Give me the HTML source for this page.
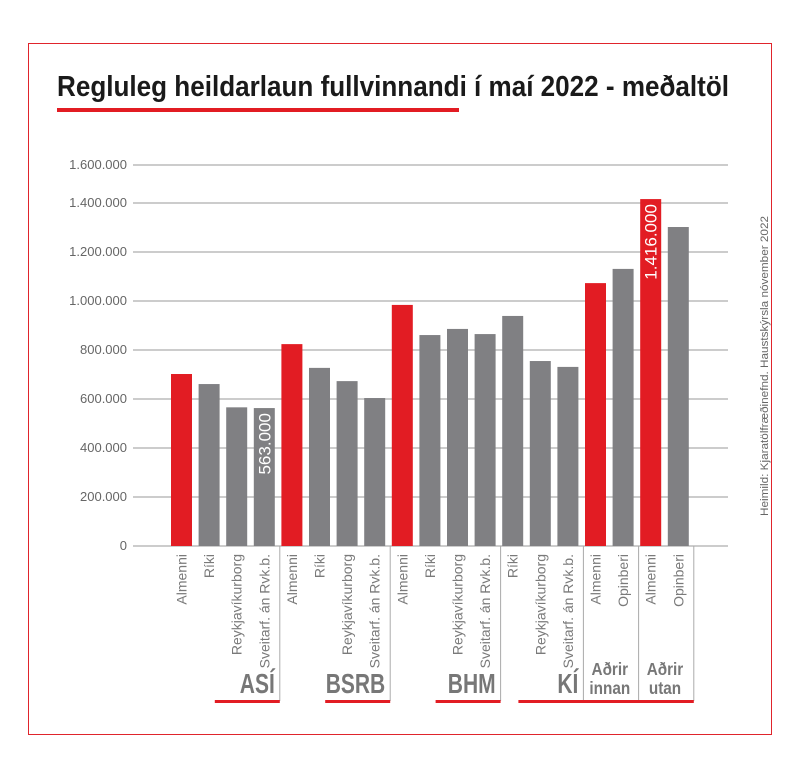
<!DOCTYPE html>
<html><head><meta charset="utf-8"><style>
body{margin:0;background:#fff;}
svg{display:block;font-family:"Liberation Sans",sans-serif;}
</style></head><body>
<svg id="c" width="800" height="783">
<rect x="28.5" y="43.5" width="743" height="691" fill="none" stroke="#e0242c" stroke-width="1"/>
<text x="57" y="96" font-weight="bold" font-size="29" fill="#1a1a1a" textLength="672" lengthAdjust="spacingAndGlyphs">Regluleg heildarlaun fullvinnandi í maí 2022 - meðaltöl</text>
<rect x="57" y="108" width="402" height="4" fill="#e21c23"/>
<text transform="translate(768,366) rotate(-90)" text-anchor="middle" font-size="11" fill="#666" textLength="300" lengthAdjust="spacingAndGlyphs">Heimild: Kjaratölfræðinefnd. Haustskýrsla nóvember 2022</text>
<g id="grid"></g><g id="bars"></g><g id="xl"></g>
</svg>
<script>
const categories=["Almenni","Ríki","Reykjavíkurborg","Sveitarf. án Rvk.b.","Almenni","Ríki","Reykjavíkurborg","Sveitarf. án Rvk.b.","Almenni","Ríki","Reykjavíkurborg","Sveitarf. án Rvk.b.","Ríki","Reykjavíkurborg","Sveitarf. án Rvk.b.","Almenni","Opinberi","Almenni","Opinberi"];
const values=[702000,661000,566000,563000,824000,727000,673000,604000,984000,861000,886000,865000,939000,755000,731000,1073000,1131000,1416000,1302000];
const highlight=[1,0,0,0,1,0,0,0,1,0,0,0,0,0,0,1,0,1,0];
const groups=["ASÍ","BSRB","BHM","KÍ","Aðrir innan","Aðrir utan"];
const groupSizes=[4,4,4,3,2,2];
const ticks=[0,200000,400000,600000,800000,1000000,1200000,1400000,1600000];
const tickLabels=["0","200.000","400.000","600.000","800.000","1.000.000","1.200.000","1.400.000","1.600.000"];
const labelled=[3,17];
const NS="http://www.w3.org/2000/svg";
function el(t,a,p){const e=document.createElementNS(NS,t);for(const k in a)e.setAttribute(k,a[k]);p.appendChild(e);return e;}
const y0=546,pxPer=49/200000;
function Y(v){return y0-v*pxPer;}
const X0=171,step=27.6,bw=21;
function X(i){return X0+i*step;}
const grid=document.getElementById('grid'),bars=document.getElementById('bars'),xl=document.getElementById('xl');
ticks.forEach((t,i)=>{
 const y=i===ticks.length-1?165:Y(t);
 const l=el('line',{x1:133,x2:728,y1:y,y2:y,stroke:'#9a9a9a','stroke-width':1},grid);
 
 
 const tx=el('text',{x:127,y:y+4,'text-anchor':'end','font-size':13,fill:'#666'},grid);
 tx.textContent=tickLabels[i];
 
 
});
values.forEach((v,i)=>{
 const r=el('rect',{x:X(i),y:Y(v),width:bw,height:y0-Y(v),fill:highlight[i]?'#e21c23':'#808083'},bars);
 
 
 if(labelled.includes(i)){
  const s=v.toString().replace(/\B(?=(\d{3})+(?!\d))/g,'.');
  const t=el('text',{transform:`translate(${X(i)+bw/2+6},${Y(v)+5}) rotate(-90)`,'text-anchor':'end','font-size':17,fill:'#fff'},bars);
  t.textContent=s;
  
  
 }
 const c=el('text',{transform:`translate(${X(i)+bw/2+5},554) rotate(-90)`,'text-anchor':'end','font-size':14,fill:'#7a7a7a'},xl);
 c.textContent=categories[i];
 
 
});
let idx=0;
groups.forEach((g,gi)=>{
 const end=idx+groupSizes[gi];
 const vx=X(end-1)+bw+5;
 const vl=el('line',{x1:vx,x2:vx,y1:546,y2:701,stroke:'#aaa','stroke-width':1},xl);
 
 
 const two=g.includes(' ');
 const ux=two?X(idx)-4:vx-65;
 const ul=el('rect',{x:ux,y:700,width:vx-ux,height:3,fill:'#e21c23'},xl);
 
 
 if(two){
  const p=g.split(' ');
  p.forEach((w,k)=>{
   const t=el('text',{transform:`translate(${(ux+vx)/2},${675+k*19}) scale(0.85,1)`,'text-anchor':'middle','font-size':18,'font-weight':'bold',fill:'#777'},xl);
   t.textContent=w;
   
   
  });
 } else {
  const t=el('text',{transform:`translate(${vx-5},693) scale(0.75,1)`,'text-anchor':'end','font-size':28,'font-weight':'bold',fill:'#777'},xl);
  t.textContent=g;
  
  
 }
 idx=end;
});
</script>
</body></html>
